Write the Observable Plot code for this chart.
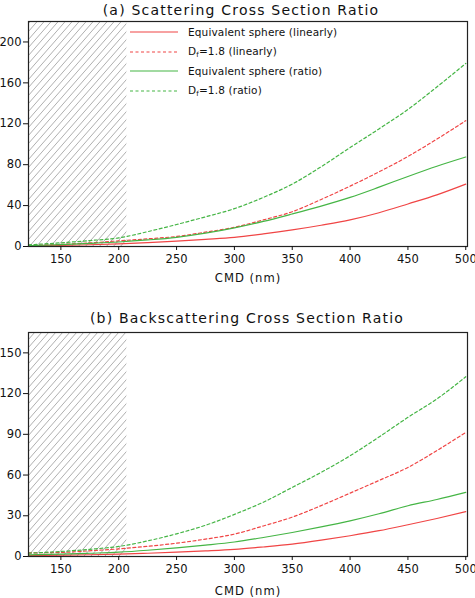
<!DOCTYPE html>
<html><head><meta charset="utf-8">
<script src="https://cdn.jsdelivr.net/npm/d3@7"></script>
<script src="https://cdn.jsdelivr.net/npm/@observablehq/plot@0.6"></script>
<style>
body{margin:0;background:#fff;font-family:"DejaVu Sans",sans-serif;}
#wrap{position:relative;width:475px;height:598px;}
#wrap svg{display:block;}
#wrap g[font-size="14"] text{letter-spacing:1.2px;}
#wrap g[font-size="11.6"] text{letter-spacing:1px;}
.legend{position:absolute;left:130px;top:22px;font-size:10.5px;color:#111;letter-spacing:0.15px;}
.row{height:19.7px;display:flex;align-items:center;white-space:nowrap;}
.row svg{margin-right:10px;}
sub{font-size:7px;vertical-align:-2px;}
</style></head><body>
<div id="wrap"></div>
<script>
// ---- data ----
const cmd = [122,150,175,200,225,250,275,300,325,350,375,400,425,450,475,500];
const shadedRange = [122, 207];

// (a) Scattering cross section ratio
const scaEqLin  = [0.5,1.0,1.7,2.6,3.8,5.2,7.0,9.0,12.3,16.2,20.8,26,33,41.6,50.5,61];
const scaDfLin  = [1.0,2.0,3.5,5.5,7.5,9.8,14,18.8,26,34,46,59,73,88,105,123];
const scaEqRat  = [0.8,1.8,3.0,4.4,6.4,9.0,13,18.2,24.5,31.8,39.5,48,58,68.5,78.5,87.5];
const scaDfRat  = [1.6,3.6,5.8,8.4,14.5,21.5,29,37,48,61,78,96.7,115,134,156,179];

// (b) Backscattering cross section ratio
const bscEqLin  = [0.7,1.0,1.3,1.7,2.4,3.2,4.1,5.2,7.0,9.1,12,15.3,19,23.4,28,33];
const bscDfLin  = [2.7,3.0,4.2,5.6,7.5,9.8,12.8,16.5,22.5,29,37.5,46.7,56,65.6,78,91.4];
const bscEqRat  = [1.2,1.7,2.4,3.2,4.6,6.4,8.4,10.7,14,17.7,21.8,26.3,31.5,37.4,42,47.2];
const bscDfRat  = [2.5,3.7,5.3,7.4,11.5,16.7,23,31,40,50.9,62,74.2,88,102.5,116,132.4];

const xTicks = [150,200,250,300,350,400,450,500];
const yTicksA = [0,40,80,120,160,200];
const yTicksB = [0,30,60,90,120,150];

const seriesLabels = ["Equivalent sphere (linearly)", "D_f=1.8 (linearly)", "Equivalent sphere (ratio)", "D_f=1.8 (ratio)"];
const RED = "#f04545", GREEN = "#45b545";
const styles = [
  {stroke: RED, dash: null},
  {stroke: RED, dash: "3,2.5"},
  {stroke: GREEN, dash: null},
  {stroke: GREEN, dash: "3,2.5"}
];

function panel({title, series, yMax, yTicks, height, marginTop, marginBottom, titleDy, titleDx, cmdDy, pid}) {
  const marks = [
    Plot.rect([shadedRange], {x1: d => d[0], x2: d => d[1], fill: `url(#hatch${pid})`}),
    ...series.map((vals, k) => Plot.line(cmd, {
      x: d => d, y: (d, i) => vals[i], curve: "monotone-x",
      stroke: styles[k].stroke, strokeWidth: 1.2,
      strokeDasharray: styles[k].dash || undefined
    })),
    Plot.frame({stroke: "#222", strokeWidth: 1.2}),
    Plot.axisX({ticks: xTicks, tickSize: 4, tickPadding: 4, label: null, fontSize: 11.5, tickFormat: d => d}),
    Plot.axisY({ticks: yTicks, tickSize: 5, tickPadding: 2, label: null, fontSize: 11.5, tickFormat: d => d}),
    Plot.text([title], {frameAnchor: "top", dy: titleDy, dx: titleDx, fontSize: 14, lineAnchor: "middle", fill: "#111"}),
    Plot.text(["CMD (nm)"], {frameAnchor: "bottom", dy: cmdDy, fontSize: 11.6, lineAnchor: "middle", fill: "#111"})
  ];
  const svg = Plot.plot({
    width: 475, height, marginLeft: 28, marginRight: 8, marginTop, marginBottom,
    x: {domain: [122, 501.5]},
    y: {domain: [0, yMax]},
    style: {fontFamily: "DejaVu Sans", fontSize: "11.5px", color: "#111", background: "#fff"},
    marks
  });
  const ns = "http://www.w3.org/2000/svg";
  const defs = document.createElementNS(ns, "defs");
  defs.innerHTML = `<pattern id="hatch${pid}" patternUnits="userSpaceOnUse" width="7" height="8">
      <path d="M-7,8 L0,0 M0,8 L7,0 M7,8 L14,0" stroke="#9a9a9a" stroke-width="0.8" fill="none"/></pattern>`;
  svg.insertBefore(defs, svg.firstChild);
  return svg;
}

const wrap = document.getElementById("wrap");
wrap.appendChild(panel({
  title: "(a) Scattering Cross Section Ratio",
  series: [scaEqLin, scaDfLin, scaEqRat, scaDfRat],
  yMax: 220, yTicks: yTicksA, height: 300, marginTop: 21, marginBottom: 54,
  titleDy: -11, titleDx: -7, cmdDy: 32, pid: "A"
}));
wrap.appendChild(panel({
  title: "(b) Backscattering Cross Section Ratio",
  series: [bscEqLin, bscDfLin, bscEqRat, bscDfRat],
  yMax: 165, yTicks: yTicksB, height: 298, marginTop: 32, marginBottom: 42,
  titleDy: -14, titleDx: -1, cmdDy: 35, pid: "B"
}));

// legend (inside panel a)
const legend = document.createElement("div");
legend.className = "legend";
seriesLabels.forEach((lab, k) => {
  const row = document.createElement("div");
  row.className = "row";
  const st = styles[k];
  row.innerHTML = `<svg width="48" height="6"><line x1="0" x2="48" y1="3" y2="3" stroke="${st.stroke}" stroke-width="1.2" ${st.dash ? `stroke-dasharray="${st.dash}"` : ""}/></svg>` +
    `<span>${lab.replace("D_f", "D<sub>f</sub>")}</span>`;
  legend.appendChild(row);
});
wrap.appendChild(legend);
</script>
</body></html>
